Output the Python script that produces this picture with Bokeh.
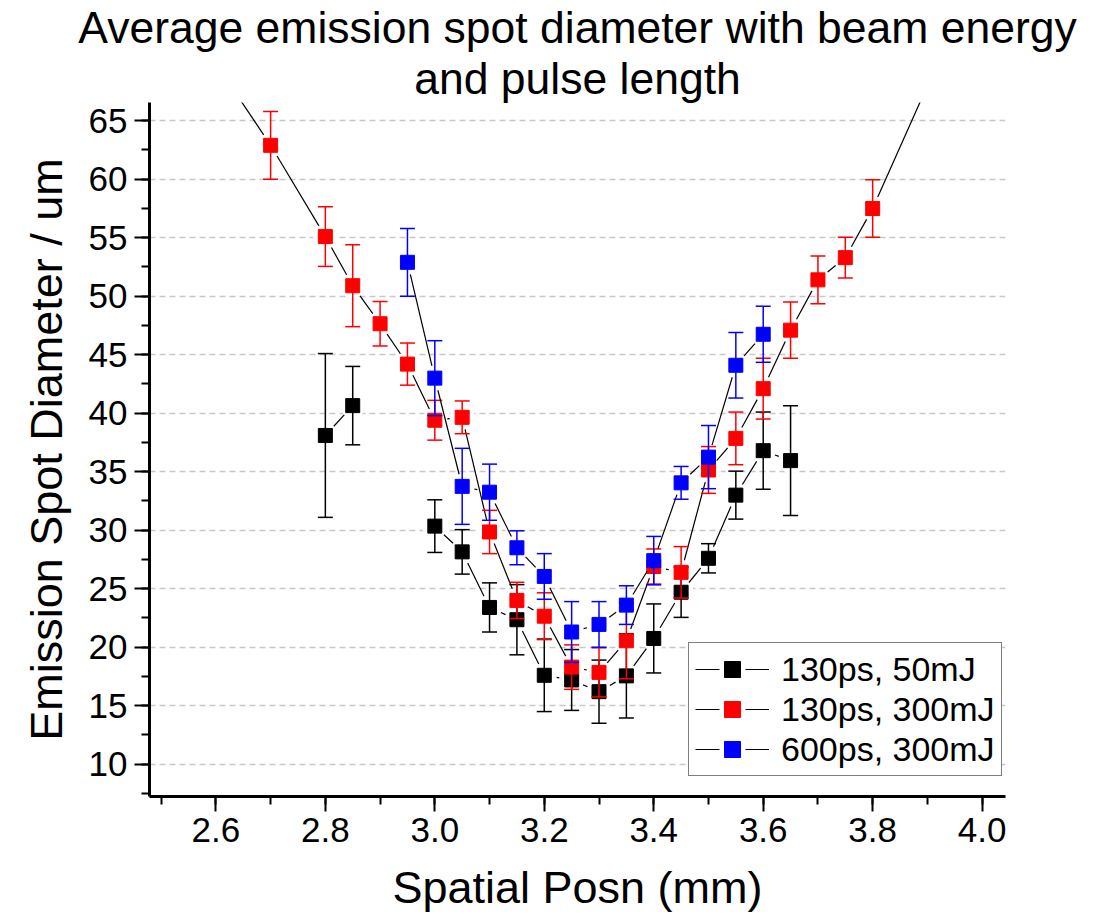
import math
from bokeh.plotting import figure
from bokeh.models import (Range1d, FixedTicker, PrintfTickFormatter, Legend,
                          LegendItem, Title)
from bokeh.embed import file_html
from bokeh.resources import INLINE

nan = float("nan")

# ---------------- data ----------------
title_lines = ["Average emission spot diameter with beam energy", "and pulse length"]
x_label = "Spatial Posn (mm)"
y_label = "Emission Spot Diameter / um"

series_names = ["130ps, 50mJ", "130ps, 300mJ", "600ps, 300mJ"]
series_colors = ["#000000", "#ff0000", "#0000ff"]

x_black = [2.8, 2.85, 2.9, 2.95, 3.0, 3.05, 3.1, 3.15, 3.2, 3.25, 3.3, 3.35,
           3.4, 3.45, 3.5, 3.55, 3.6, 3.65]
y_black = [38.1, 40.65, nan, nan, 30.35, 28.15, 23.4, 22.35, 17.6, 17.2, 16.2,
           17.55, 20.75, 24.7, 27.6, 33.0, 36.8, 35.95]
e_black = [7.0, 3.35, nan, nan, 2.25, 1.9, 2.1, 3.0, 3.1, 2.6, 2.7, 3.6,
           2.95, 2.15, 1.25, 2.05, 3.3, 4.7]

x_red = [2.6, 2.7, 2.8, 2.85, 2.9, 2.95, 3.0, 3.05, 3.1, 3.15, 3.2, 3.25, 3.3,
         3.35, 3.4, 3.45, 3.5, 3.55, 3.6, 3.65, 3.7, 3.75, 3.8, 3.9]
y_red = [69.9, 62.9, 55.1, 50.9, 47.65, 44.2, 39.4, 39.65, 29.85, 24.0, 22.65,
         18.3, 17.85, 20.55, 26.9, 26.4, 35.15, 37.85, 42.1, 47.1, 51.4, 53.3,
         57.5, 68.0]
e_red = [1.0, 2.9, 2.55, 3.5, 1.9, 1.8, 1.7, 1.4, 1.85, 1.55, 2.0, 1.9, 2.1,
         3.25, 1.5, 2.2, 2.0, 2.25, 2.6, 2.4, 2.05, 1.75, 2.45, 1.0]

x_blue = [2.95, 3.0, 3.05, 3.1, 3.15, 3.2, 3.25, 3.3, 3.35, 3.4, 3.45, 3.5,
          3.55, 3.6]
y_blue = [52.9, 43.0, 33.75, 33.25, 28.5, 26.05, 21.3, 21.95, 23.6, 27.4,
          34.05, 36.25, 44.1, 46.75]
e_blue = [2.9, 3.2, 3.25, 2.4, 1.45, 1.95, 2.6, 1.95, 1.65, 2.07, 1.4, 2.7,
          2.8, 2.4]

x_ticks = [2.6, 2.8, 3.0, 3.2, 3.4, 3.6, 3.8, 4.0]
x_minor = [2.5, 2.6, 2.7, 2.8, 2.9, 3.0, 3.1, 3.2, 3.3, 3.4, 3.5, 3.6, 3.7,
           3.8, 3.9, 4.0]
y_ticks = [10, 15, 20, 25, 30, 35, 40, 45, 50, 55, 60, 65]
y_minor = [7.5, 10, 12.5, 15, 17.5, 20, 22.5, 25, 27.5, 30, 32.5, 35, 37.5,
           40, 42.5, 45, 47.5, 50, 52.5, 55, 57.5, 60, 62.5, 65]

# ---------------- layout ----------------
X0, X1 = 2.4787, 4.0427
Y0, Y1 = 7.24, 66.56
FW, FH = 856, 694
FONT = "Liberation Sans"

p = figure(width=1107, height=924, title=None,
           x_range=Range1d(X0, X1), y_range=Range1d(Y0, Y1),
           output_backend="svg", toolbar_location=None,
           min_border_left=149, min_border_right=102,
           min_border_top=99, min_border_bottom=128,
           background_fill_color="white", border_fill_color="white")
p.outline_line_color = None

# second line first: the first title added sits closest to the plot
for line in reversed(title_lines):
    p.add_layout(Title(text=line, align="center", text_font=FONT,
                       text_font_size="44.5px", text_font_style="normal",
                       text_color="black", standoff=0), "above")

for ax in (p.xaxis[0], p.yaxis[0]):
    ax.axis_line_width = 3
    ax.axis_line_color = "black"
    ax.major_tick_line_width = 2
    ax.minor_tick_line_width = 2
    ax.major_tick_out = 15
    ax.major_tick_in = 0
    ax.minor_tick_out = 8
    ax.minor_tick_in = 0
    ax.major_label_text_font = FONT
    ax.major_label_text_font_size = "35px"
    ax.major_label_text_color = "black"
    ax.axis_label_text_font = FONT
    ax.axis_label_text_font_size = "45px"
    ax.axis_label_text_font_style = "normal"
    ax.axis_label_text_color = "black"

p.xaxis.ticker = FixedTicker(ticks=x_ticks, minor_ticks=x_minor)
p.xaxis.formatter = PrintfTickFormatter(format="%.1f")
p.xaxis.major_label_standoff = 6
p.xaxis.axis_label = x_label
p.xaxis.axis_label_standoff = 17

p.yaxis.ticker = FixedTicker(ticks=y_ticks, minor_ticks=y_minor)
p.yaxis.major_label_standoff = 7
p.yaxis.axis_label = y_label
p.yaxis.axis_label_standoff = 14

p.xgrid.visible = False
p.ygrid.grid_line_color = "#c8c8c8"
p.ygrid.grid_line_dash = "6 4"
p.ygrid.grid_line_width = 1.5

# ---------------- glyphs ----------------
SX = FW / (X1 - X0)
SY = FH / (Y1 - Y0)
GAP = 12.5


def gapped_segments(xs, ys):
    x0s, y0s, x1s, y1s = [], [], [], []
    for i in range(len(xs) - 1):
        xa, ya, xb, yb = xs[i], ys[i], xs[i + 1], ys[i + 1]
        if math.isnan(ya) or math.isnan(yb):
            continue
        dx = (xb - xa) * SX
        dy = (yb - ya) * SY
        L = math.hypot(dx, dy)
        if L <= 2 * GAP:
            continue
        f = GAP / L
        x0s.append(xa + (xb - xa) * f)
        y0s.append(ya + (yb - ya) * f)
        x1s.append(xb - (xb - xa) * f)
        y1s.append(yb - (yb - ya) * f)
    return dict(x0=x0s, y0=y0s, x1=x1s, y1=y1s)


series = [(x_black, y_black, e_black), (x_red, y_red, e_red),
          (x_blue, y_blue, e_blue)]

halos = []
for (xs, ys, es) in series:
    ok = [i for i in range(len(xs)) if not math.isnan(ys[i])]
    h = p.scatter([xs[i] for i in ok], [ys[i] for i in ok], marker="circle",
                  size=15, fill_color="white", line_color="white",
                  line_width=10)
    halos.append(h)

items = []
for k, (xs, ys, es) in enumerate(series):
    c = series_colors[k]
    ok = [i for i in range(len(xs)) if not math.isnan(ys[i])]
    xv = [xs[i] for i in ok]
    yv = [ys[i] for i in ok]
    lo = [ys[i] - es[i] for i in ok]
    hi = [ys[i] + es[i] for i in ok]
    seg = gapped_segments(xs, ys)
    seg_r = p.segment(x0=seg["x0"], y0=seg["y0"], x1=seg["x1"], y1=seg["y1"],
                      line_color="black", line_width=1.2)
    mk_r = p.scatter(xv, yv, marker="square", size=14, fill_color=c,
                     line_color=c, line_width=1)
    p.segment(x0=xv, y0=lo, x1=xv, y1=hi, line_color=c, line_width=1.5)
    p.scatter(xv, hi, marker="dash", size=15, line_color=c, line_width=1.5)
    p.scatter(xv, lo, marker="dash", size=15, line_color=c, line_width=1.5)
    items.append(LegendItem(label=series_names[k],
                            renderers=[seg_r, halos[k], mk_r]))

legend = Legend(items=items, location=(539, 20), glyph_width=74,
                glyph_height=40, label_height=40, label_standoff=12,
                spacing=0, padding=6, margin=0,
                border_line_color="black", border_line_width=1.5,
                background_fill_color="white", background_fill_alpha=1.0,
                label_text_font=FONT, label_text_font_size="34px",
                label_text_color="black")
p.add_layout(legend)

open("out.html", "w").write(file_html(p, INLINE))
